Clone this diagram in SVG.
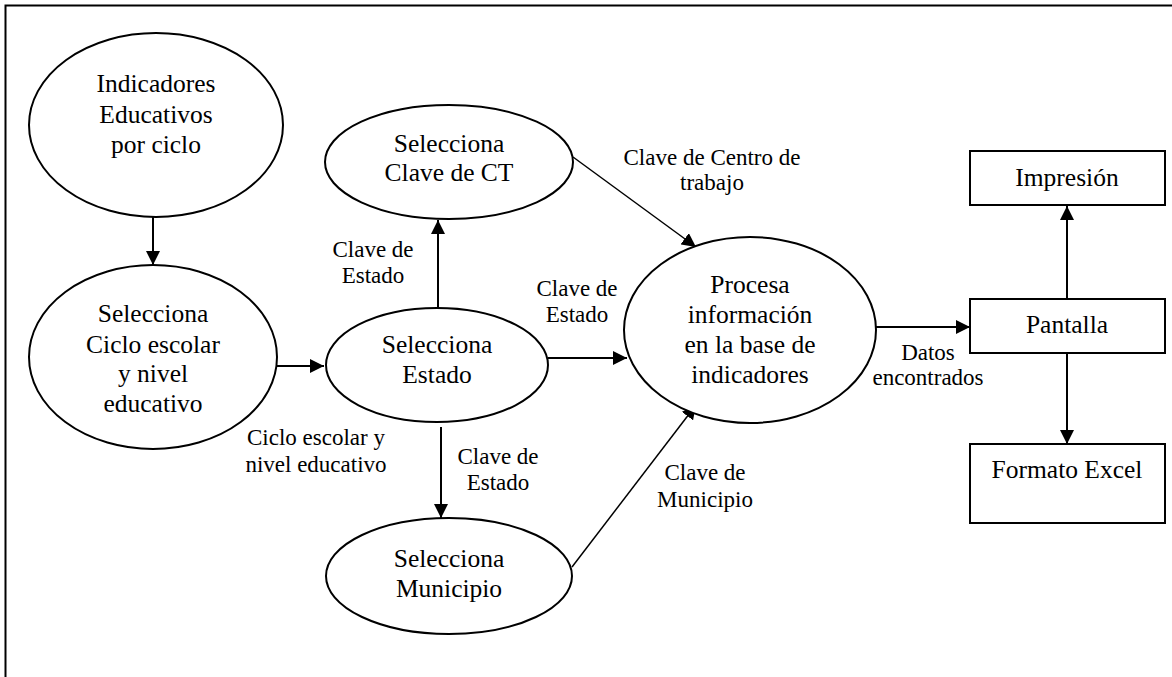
<svg xmlns="http://www.w3.org/2000/svg" width="1172" height="677" viewBox="0 0 1172 677">
<style>
.n{fill:#fff;stroke:#000;stroke-width:2}
.t{font-family:"Liberation Serif","Times New Roman",serif;font-size:25.5px;fill:#000;text-anchor:middle}
.l{font-family:"Liberation Serif","Times New Roman",serif;font-size:23px;fill:#000;text-anchor:middle}
.c{stroke:#000;stroke-width:2;fill:none}
.c1{stroke:#000;stroke-width:1.5;fill:none}
</style>
<defs>
<marker id="ah" viewBox="0 0 10 10" refX="10" refY="5" markerWidth="14" markerHeight="14" markerUnits="userSpaceOnUse" orient="auto">
<path d="M0,0 L10,5 L0,10 z" fill="#000"/>
</marker>
</defs>
<rect x="0" y="0" width="1172" height="677" fill="#fff"/>
<rect x="5.5" y="5.5" width="1250" height="750" fill="none" stroke="#000" stroke-width="2"/>
<g id="connectors">
<line class="c" x1="153" y1="217" x2="153" y2="265" marker-end="url(#ah)"/>
<line class="c" x1="276" y1="366" x2="324" y2="366" marker-end="url(#ah)"/>
<line class="c" x1="438" y1="308" x2="438" y2="220" marker-end="url(#ah)"/>
<line class="c" x1="548" y1="358" x2="627" y2="358" marker-end="url(#ah)"/>
<line class="c" x1="441" y1="427" x2="441" y2="518" marker-end="url(#ah)"/>
<line class="c1" x1="572" y1="567" x2="696" y2="405" marker-end="url(#ah)"/>
<line class="c1" x1="573" y1="157" x2="696" y2="247" marker-end="url(#ah)"/>
<line class="c" x1="876" y1="327" x2="970" y2="327" marker-end="url(#ah)"/>
<line class="c" x1="1067" y1="299" x2="1067" y2="206" marker-end="url(#ah)"/>
<line class="c" x1="1067" y1="353" x2="1067" y2="444" marker-end="url(#ah)"/>
<text class="l" x="373" y="257">Clave de</text>
<text class="l" x="373" y="283">Estado</text>
<text class="l" x="577" y="296">Clave de</text>
<text class="l" x="577" y="322">Estado</text>
<text class="l" x="712" y="165">Clave de Centro de</text>
<text class="l" x="712" y="190">trabajo</text>
<text class="l" x="498" y="464">Clave de</text>
<text class="l" x="498" y="490">Estado</text>
<text class="l" x="316" y="445">Ciclo escolar y</text>
<text class="l" x="316" y="472">nivel educativo</text>
<text class="l" x="705" y="480">Clave de</text>
<text class="l" x="705" y="507">Municipio</text>
<text class="l" x="928" y="360">Datos</text>
<text class="l" x="928" y="385">encontrados</text>
</g>
<g id="indicadores">
<ellipse class="n" cx="156" cy="125" rx="127" ry="92"/>
<text class="t" x="156" y="92">Indicadores</text>
<text class="t" x="156" y="123">Educativos</text>
<text class="t" x="156" y="153">por ciclo</text>
</g>
<g id="ciclo">
<ellipse class="n" cx="153" cy="357" rx="124" ry="92"/>
<text class="t" x="153" y="322">Selecciona</text>
<text class="t" x="153" y="353">Ciclo escolar</text>
<text class="t" x="153" y="382">y nivel</text>
<text class="t" x="153" y="412">educativo</text>
</g>
<g id="clavect">
<ellipse class="n" cx="449" cy="162" rx="124" ry="57"/>
<text class="t" x="449" y="152">Selecciona</text>
<text class="t" x="449" y="181">Clave de CT</text>
</g>
<g id="estado">
<ellipse class="n" cx="437" cy="365" rx="111" ry="57"/>
<text class="t" x="437" y="353">Selecciona</text>
<text class="t" x="437" y="383">Estado</text>
</g>
<g id="municipio">
<ellipse class="n" cx="449" cy="576" rx="123" ry="58"/>
<text class="t" x="449" y="567">Selecciona</text>
<text class="t" x="449" y="597">Municipio</text>
</g>
<g id="procesa">
<ellipse class="n" cx="750" cy="330" rx="126" ry="93"/>
<text class="t" x="750" y="293">Procesa</text>
<text class="t" x="750" y="323">información</text>
<text class="t" x="750" y="353">en la base de</text>
<text class="t" x="750" y="383">indicadores</text>
</g>
<g id="impresion">
<rect class="n" x="970" y="151" width="195" height="54"/>
<text class="t" x="1067" y="186">Impresión</text>
</g>
<g id="pantalla">
<rect class="n" x="970" y="299" width="195" height="54"/>
<text class="t" x="1067" y="333">Pantalla</text>
</g>
<g id="excel">
<rect class="n" x="970" y="444" width="195" height="79"/>
<text class="t" x="1067" y="478">Formato Excel</text>
</g>
</svg>
